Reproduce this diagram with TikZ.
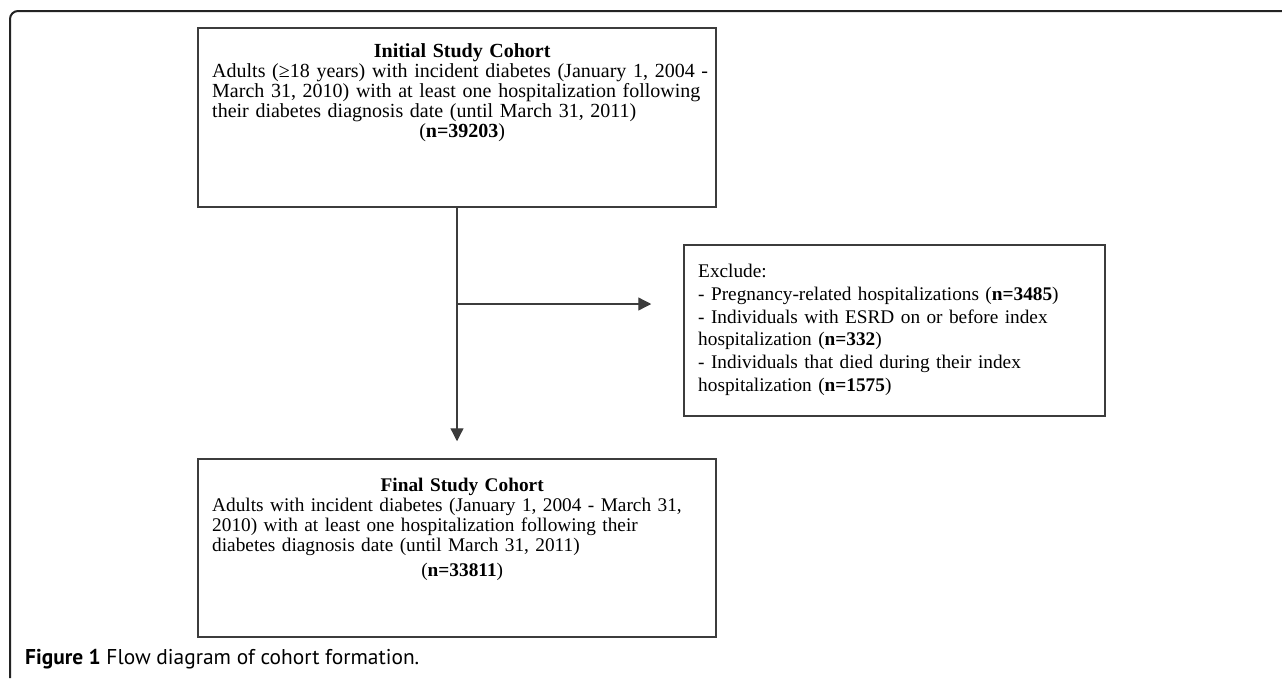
\documentclass[tikz,border=0pt]{standalone}
\usepackage{fontspec}
\setmainfont{Liberation Serif}
\newfontfamily\capfont{PT Sans}
\usetikzlibrary{arrows.meta, positioning, calc}
\definecolor{BoxGray}{RGB}{60,60,60}
\definecolor{FrameGray}{RGB}{35,35,35}

\tikzset{
  cohortbox/.style={draw=BoxGray, line width=1.5pt, minimum width=518pt, inner sep=0pt},
  boxtext/.style={align=left, text width=500pt, inner sep=0pt, font=\fontsize{19.3}{20}\selectfont},
  flowarrow/.style={draw=BoxGray, line width=1.3pt, -{Triangle[length=13pt,width=13pt]}},
}

\begin{document}
\begin{tikzpicture}[x=1pt,y=-1pt]
\useasboundingbox (0,0) rectangle (1282,678);
% frame round the figure
\draw[FrameGray, line width=2pt, rounded corners=8pt] (10,678) -- (10,11) -- (1282,11);

\node[cohortbox, minimum height=179pt] (init) at (457,117.5) {};
\node[boxtext, anchor=north west, font=\fontsize{20}{20}\selectfont] (inittxt) at (212,43) {%
{\centering\textbf{Initial Study Cohort}\par}
Adults (≥18 years) with incident diabetes (January 1, 2004 -\\
March 31, 2010) with at least one hospitalization following\\
their diabetes diagnosis date (until March 31, 2011)\par
{\centering(\textbf{n=39203})\par}};

\node[cohortbox, minimum width=421pt, minimum height=171pt] (excl) at (894.5,330.5) {};
\node[boxtext, text width=400pt, anchor=north west, font=\fontsize{19.3}{22.8}\selectfont] (excltxt) at (698,264) {%
Exclude:\\
- Pregnancy-related hospitalizations (\textbf{n=3485})\\
- Individuals with ESRD on or before index\\
hospitalization (\textbf{n=332})\\
- Individuals that died during their index\\
hospitalization (\textbf{n=1575})};

\node[cohortbox, minimum height=178pt] (final) at (457,548) {};
\node[boxtext, anchor=north west] (finaltxt) at (212,478) {%
{\centering\textbf{Final Study Cohort}\par}
Adults with incident diabetes (January 1, 2004 - March 31,\\
2010) with at least one hospitalization following their\\
diabetes diagnosis date (until March 31, 2011)\par
\vspace{5pt}
{\centering(\textbf{n=33811})\par}};

\coordinate (split) at (457,304);
\draw[flowarrow, shorten >=17pt] (init.south) -- (final.north);
\draw[flowarrow, shorten >=32pt] (split) -- (split -| excl.west);

\node[anchor=base west, inner sep=0pt, font=\capfont\fontsize{21.4}{24}\selectfont] (caption) at (25,664)
  {\textbf{Figure 1} Flow diagram of cohort formation.};
\end{tikzpicture}
\end{document}
